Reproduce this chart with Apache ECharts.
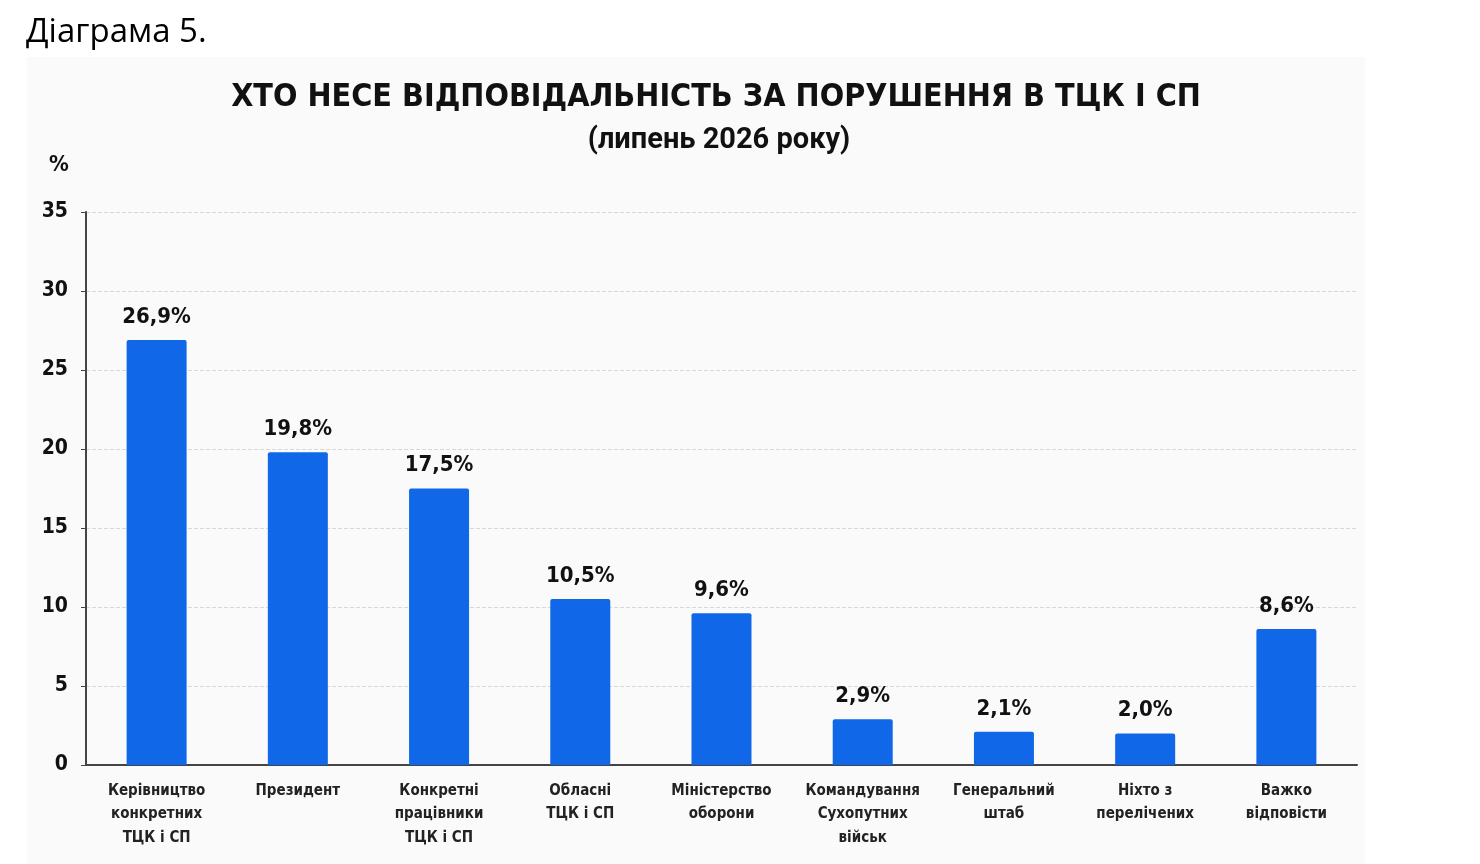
<!DOCTYPE html>
<html>
<head>
<meta charset="utf-8">
<script src="https://cdn.jsdelivr.net/npm/echarts@6/dist/echarts.min.js"></script>
<style>
    html, body { margin: 0; padding: 0; background: #fff; }
    #chart { width: 1480px; height: 864px; }
</style>
</head>
<body>
<div id="chart"></div>
<script>
    let categories = ['Керівництво\nконкретних\nТЦК і СП', 'Президент', 'Конкретні\nпрацівники\nТЦК і СП',
        'Обласні\nТЦК і СП', 'Міністерство\nоборони', 'Командування\nСухопутних\nвійськ',
        'Генеральний\nштаб', 'Ніхто з\nперелічених', 'Важко\nвідповісти'];
    let values = [26.9, 19.8, 17.5, 10.5, 9.6, 2.9, 2.1, 2.0, 8.6];
    let yTicks = [0, 5, 10, 15, 20, 25, 30, 35];

    let narrow = "'DejaVu Sans Condensed', Roboto, sans-serif";
    let chart = echarts.init(document.getElementById('chart'));
    let option = {
        animation: false,
        backgroundColor: '#fff',
        graphic: [
            {
                type: 'rect',
                z: -10,
                shape: { x: 27, y: 57, width: 1338, height: 807 },
                style: { fill: '#fafafa' }
            },
            {
                type: 'text',
                left: 26, top: 16,
                style: { text: 'Діаграма 5.', font: '33px "Open Sans", "Liberation Sans", sans-serif', fill: '#000' }
            },
            {
                type: 'text',
                left: 49, top: 154,
                style: { text: '%', font: 'bold 22px ' + narrow, fill: '#111' }
            }
        ],
        title: [
            {
                text: 'ХТО НЕСЕ ВІДПОВІДАЛЬНІСТЬ ЗА ПОРУШЕННЯ В ТЦК І СП',
                left: 711, top: 77, textAlign: 'center',
                textStyle: { fontFamily: narrow, fontWeight: 'bold', fontSize: 32, color: '#111' }
            },
            {
                text: '(липень 2026 року)',
                left: 714, top: 121, textAlign: 'center',
                textStyle: { fontFamily: 'Roboto, sans-serif', fontWeight: 'bold', fontSize: 29, color: '#111' }
            }
        ],
        grid: { left: 86, right: 123, top: 212, bottom: 99, containLabel: false },
        xAxis: {
            type: 'category',
            data: categories,
            axisLine: { lineStyle: { color: '#444', width: 2 } },
            axisTick: { show: false },
            axisLabel: {
                interval: 0,
                margin: 14,
                lineHeight: 23.5,
                fontFamily: narrow,
                fontWeight: 'bold',
                fontSize: 15,
                color: '#222'
            }
        },
        yAxis: {
            type: 'value',
            min: yTicks[0],
            max: yTicks[yTicks.length - 1],
            interval: 5,
            axisLine: { show: true, lineStyle: { color: '#444', width: 2 } },
            axisTick: { show: true, length: 5, lineStyle: { color: '#444' } },
            axisLabel: {
                margin: 18,
                fontFamily: narrow,
                fontWeight: 'bold',
                fontSize: 21,
                color: '#111'
            },
            splitLine: { lineStyle: { color: '#d8d8d8', type: 'dashed' } }
        },
        series: [{
            type: 'bar',
            data: values,
            barWidth: 60,
            itemStyle: { color: '#1068e8', borderRadius: [2, 2, 0, 0] },
            label: {
                show: true,
                position: 'top',
                distance: 12,
                fontFamily: narrow,
                fontWeight: 'bold',
                fontSize: 22,
                color: '#111',
                formatter: function (p) {
                    return p.value.toFixed(1).replace('.', ',') + '%';
                }
            }
        }]
    };
    chart.setOption(option);
</script>
</body>
</html>
